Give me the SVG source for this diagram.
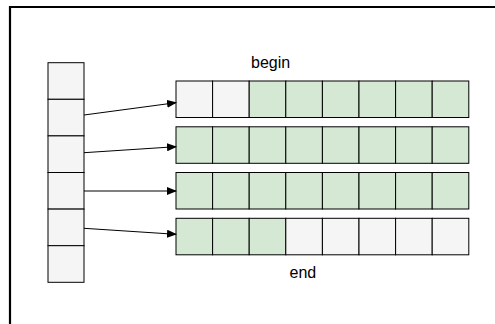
<svg xmlns="http://www.w3.org/2000/svg" width="495" height="324" viewBox="0 0 495 324">
<style>
.g{fill:#f5f5f5;stroke:#000;stroke-width:1}
.v{fill:#d5e8d4;stroke:#000;stroke-width:1}
.c{stroke:#000;stroke-width:1;fill:none;marker-end:url(#ah)}
.t{font-family:"Liberation Sans",Arial,sans-serif;font-size:16px;fill:#000}
</style>
<defs>
<marker id="ah" markerWidth="10" markerHeight="8" refX="9" refY="4" orient="auto" markerUnits="userSpaceOnUse">
<path d="M0,0 L10,4 L0,8 z" fill="#000"/>
</marker>
</defs>
<rect width="495" height="324" fill="#fff"/>
<path d="M10,330 L10,7 L500,7" fill="none" stroke="#000" stroke-width="2.2"/>
<g id="index">
<rect class="g" x="48" y="62.7" width="36" height="36.6"/>
<rect class="g" x="48" y="99.3" width="36" height="36.6"/>
<rect class="g" x="48" y="135.9" width="36" height="36.6"/>
<rect class="g" x="48" y="172.5" width="36" height="36.6"/>
<rect class="g" x="48" y="209.1" width="36" height="36.6"/>
<rect class="g" x="48" y="245.7" width="36" height="36.6"/>
</g>
<g id="row1">
<rect class="g" x="176" y="81" width="36.6" height="36.5"/>
<rect class="g" x="212.6" y="81" width="36.6" height="36.5"/>
<rect class="v" x="249.2" y="81" width="36.6" height="36.5"/>
<rect class="v" x="285.8" y="81" width="36.6" height="36.5"/>
<rect class="v" x="322.4" y="81" width="36.6" height="36.5"/>
<rect class="v" x="359" y="81" width="36.6" height="36.5"/>
<rect class="v" x="395.6" y="81" width="36.6" height="36.5"/>
<rect class="v" x="432.2" y="81" width="36.6" height="36.5"/>
</g>
<g id="row2">
<rect class="v" x="176" y="126.8" width="36.6" height="36.5"/>
<rect class="v" x="212.6" y="126.8" width="36.6" height="36.5"/>
<rect class="v" x="249.2" y="126.8" width="36.6" height="36.5"/>
<rect class="v" x="285.8" y="126.8" width="36.6" height="36.5"/>
<rect class="v" x="322.4" y="126.8" width="36.6" height="36.5"/>
<rect class="v" x="359" y="126.8" width="36.6" height="36.5"/>
<rect class="v" x="395.6" y="126.8" width="36.6" height="36.5"/>
<rect class="v" x="432.2" y="126.8" width="36.6" height="36.5"/>
</g>
<g id="row3">
<rect class="v" x="176" y="172.5" width="36.6" height="36.5"/>
<rect class="v" x="212.6" y="172.5" width="36.6" height="36.5"/>
<rect class="v" x="249.2" y="172.5" width="36.6" height="36.5"/>
<rect class="v" x="285.8" y="172.5" width="36.6" height="36.5"/>
<rect class="v" x="322.4" y="172.5" width="36.6" height="36.5"/>
<rect class="v" x="359" y="172.5" width="36.6" height="36.5"/>
<rect class="v" x="395.6" y="172.5" width="36.6" height="36.5"/>
<rect class="v" x="432.2" y="172.5" width="36.6" height="36.5"/>
</g>
<g id="row4">
<rect class="v" x="176" y="218.3" width="36.6" height="36.5"/>
<rect class="v" x="212.6" y="218.3" width="36.6" height="36.5"/>
<rect class="v" x="249.2" y="218.3" width="36.6" height="36.5"/>
<rect class="g" x="285.8" y="218.3" width="36.6" height="36.5"/>
<rect class="g" x="322.4" y="218.3" width="36.6" height="36.5"/>
<rect class="g" x="359" y="218.3" width="36.6" height="36.5"/>
<rect class="g" x="395.6" y="218.3" width="36.6" height="36.5"/>
<rect class="g" x="432.2" y="218.3" width="36.6" height="36.5"/>
</g>
<g id="labels">
<text class="t" x="251" y="67.5">begin</text>
<text class="t" x="289.5" y="277.7">end</text>
</g>
<g id="connectors">
<line class="c" x1="84" y1="115" x2="176" y2="102.7"/>
<line class="c" x1="84" y1="152.7" x2="176" y2="146.7"/>
<line class="c" x1="84" y1="191" x2="176" y2="191"/>
<line class="c" x1="84" y1="228.3" x2="176" y2="234.3"/>
</g>
</svg>
